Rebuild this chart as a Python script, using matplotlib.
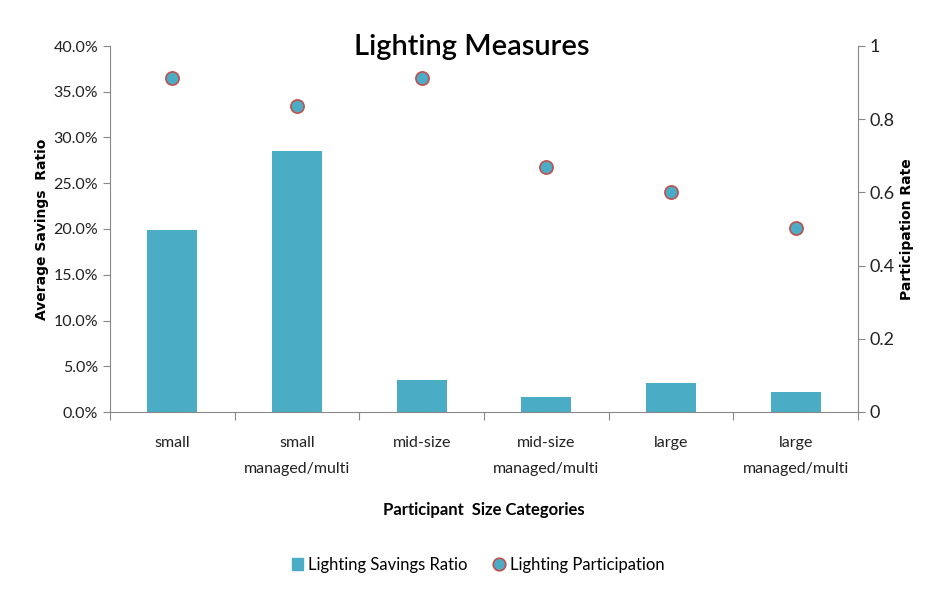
import matplotlib
matplotlib.use("Agg")
import matplotlib.pyplot as plt
import numpy as np
from matplotlib.lines import Line2D
from matplotlib.patches import Patch

categories = ["small", "small\nmanaged/multi", "mid-size", "mid-size\nmanaged/multi", "large", "large\nmanaged/multi"]
savings_ratio = [0.199, 0.285, 0.035, 0.016, 0.032, 0.022]
participation = [0.913, 0.836, 0.913, 0.669, 0.601, 0.503]

plt.rcParams['font.family'] = ['Lato', 'DejaVu Sans']

fig = plt.figure(figsize=(9.36, 5.98), dpi=100)
ax = fig.add_axes([110/936, (598-412)/598, (858-110)/936, (412-46)/598])
ax2 = ax.twinx()

bar_c = "#4BACC6"
edge_c = "#C0504D"
axis_c = "#888888"
x = np.arange(len(categories))
ax.bar(x, savings_ratio, width=0.4, color=bar_c, zorder=2)
ax2.scatter(x, participation, s=90, facecolor=bar_c, edgecolor=edge_c, linewidth=1.2, zorder=3)

ax.set_xlim(-0.5, len(categories) - 0.5)
ax.set_ylim(0, 0.4)
ax.set_yticks(np.arange(0, 0.41, 0.05))
ax.set_yticklabels([f"{v*100:.1f}%" for v in np.arange(0, 0.41, 0.05)])
ax2.set_ylim(0, 1)
ax2.set_yticks([0, 0.2, 0.4, 0.6, 0.8, 1.0])
ax2.set_yticklabels(["0", "0.2", "0.4", "0.6", "0.8", "1"])

ax.set_xticks(np.arange(-0.5, len(categories), 1.0))
ax.set_xticklabels([])
ax.set_xticks(x, minor=True)
ax.set_xticklabels(categories, minor=True)
ax.tick_params(axis='x', which='minor', length=0, pad=17, labelsize=11.5, colors="#222222")
ax.tick_params(axis='x', which='major', length=6, color=axis_c, direction='out')
ax.tick_params(axis='y', length=5, color=axis_c, labelsize=11.5, labelcolor="#222222")
ax2.tick_params(axis='y', length=5, color=axis_c, labelsize=13, labelcolor="#222222")

for a in (ax, ax2):
    a.spines["top"].set_visible(False)
    for s in ("left", "right", "bottom"):
        a.spines[s].set_color(axis_c)
ax.spines["right"].set_visible(False)
ax2.spines["left"].set_visible(False)
ax2.spines["bottom"].set_visible(False)

for lbl in ax.get_xticklabels(minor=True):
    lbl.set_linespacing(2.1)
    lbl.set_va("top")

ax.set_ylabel("Average Savings  Ratio", fontsize=10, fontweight="bold", family=['DejaVu Sans'], labelpad=3)
ax2.set_ylabel("Participation Rate", fontsize=10, fontweight="bold", family=['DejaVu Sans'], rotation=90, labelpad=4)
ax.set_xlabel("Participant  Size Categories", fontsize=12, fontweight="bold", labelpad=19)

fig.text(472/936, 1 - 47/598, "Lighting Measures", ha="center", va="center", fontsize=21, fontweight="semibold")

handles = [Patch(facecolor=bar_c, edgecolor=bar_c, label="Lighting Savings Ratio"),
           Line2D([], [], marker="o", linestyle="none", markersize=9, markerfacecolor=bar_c,
                  markeredgecolor=edge_c, markeredgewidth=1.2, label="Lighting Participation")]
fig.legend(handles=handles, loc="center", bbox_to_anchor=(478/936, 1 - 565/598), ncol=2,
           frameon=False, fontsize=12, handlelength=0.7, handletextpad=0.3, columnspacing=1.5)

fig.savefig("out.png", dpi=100)
